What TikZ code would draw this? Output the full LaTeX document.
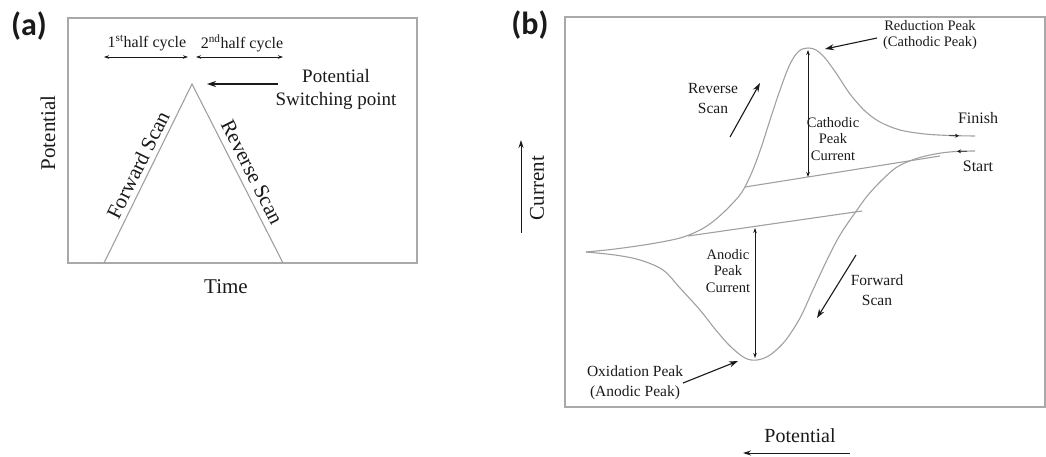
\documentclass[tikz,border=0pt]{standalone}
\usepackage{fontspec}
\setmainfont{Liberation Serif}
\newfontfamily\panelfont{Carlito}
\usetikzlibrary{positioning,arrows.meta}
\definecolor{frame}{HTML}{A9A9A9}
\definecolor{trace}{HTML}{A0A0A0}
\definecolor{ink}{HTML}{1A1A1A}

\begin{document}
\begin{tikzpicture}[x=1pt,y=-1pt,
  every node/.style={text=ink,inner sep=0pt},
  curve/.style={trace,line width=1.1pt},
  box/.style={frame,line width=1.2pt},
  ann/.style={ink,line width=1.1pt,-{Stealth[length=9pt,width=6pt]}},
  dim/.style={ink,line width=0.8pt,{Stealth[length=5pt,width=3.5pt]}-{Stealth[length=5pt,width=3.5pt]}},
  panel/.style={font=\panelfont\bfseries\fontsize{32}{32}\selectfont},
  txtlg/.style={font=\fontsize{21}{23}\selectfont},
  txtmd/.style={font=\fontsize{16}{18}\selectfont},
  txtsm/.style={font=\fontsize{15.5}{20}\selectfont,align=center},
  txtpk/.style={font=\fontsize{14.5}{16.5}\selectfont,align=center}]
  \useasboundingbox (0,0) rectangle (1046,456);

  % panel (a): potential against time
  \node[panel] (pa) at (29,26) {(a)};
  \draw[box] (68,18) rectangle (417,263);
  \coordinate (b1) at (104,263);
  \coordinate (apex) at (192,84);
  \coordinate (b2) at (283,263);
  \draw[curve] (b1) -- (apex) -- (b2);
  \coordinate (h0) at (104,57);
  \coordinate (hm1) at (188,57);
  \coordinate (hm2) at (196,57);
  \coordinate (h2) at (283,57);
  \draw[dim] (h0) -- (hm1);
  \draw[dim] (hm2) -- (h2);
  \node[txtmd] (half1) at (147,43) {1\textsuperscript{st}half cycle};
  \node[txtmd] (half2) at (242,43) {2\textsuperscript{nd}half cycle};
  \node[font=\fontsize{19}{23}\selectfont,align=center] (switch) at (336,89) {Potential\\Switching point};
  \coordinate (swtail) at (278,84);
  \draw[ann] (swtail) -- ([xshift=15pt]apex);
  \node[txtlg,rotate=63.8] (fwd) at (138,165) {Forward Scan};
  \node[txtlg,rotate=-63.2] (rev) at (252,172) {Reverse Scan};
  \node[txtlg,rotate=90] (ylab) at (48,133) {Potential};
  \node[txtlg] (xlab) at (226,287) {Time};

  % panel (b): voltammogram
  \node[panel] (pb) at (530,25) {(b)};
  \draw[box] (565,17) rectangle (1045,407);
  \coordinate (cur0) at (521,233);
  \coordinate (cur1) at (521,140);
  \draw[ink,line width=1pt,-{Stealth[length=8pt,width=5pt]}] (cur0) -- (cur1);
  \node[txtlg,rotate=90] (curlab) at (537,188) {Current};
  \node[font=\fontsize{20}{22}\selectfont] (potlab) at (800,436) {Potential};
  \coordinate (pot0) at (850,453);
  \coordinate (pot1) at (743,453);
  \draw[ink,line width=1pt,-{Stealth[length=8pt,width=5pt]}] (pot0) -- (pot1);

  % reverse (upper) branch
  \draw[curve] plot[smooth,tension=0.55] coordinates {(586,252) (615,249) (650,244) (680,238)
    (700,230) (715,220) (730,206) (742,192) (752,172) (761,148) (770,120) (780,90) (790,64)
    (799,51) (808,48) (816,50) (825,58) (836,73) (850,94) (865,111) (880,122) (900,130)
    (925,134) (950,135.5) (975,136)};
  % forward (lower) branch
  \draw[curve] plot[smooth,tension=0.55] coordinates {(975,151) (955,151.5) (935,154) (915,159)
    (897,167) (882,180) (868,195) (857,210) (840,235) (826,262) (812,292) (800,318) (785,341)
    (770,355) (757,360) (745,358) (730,346) (715,329) (700,310) (680,288) (663,270) (640,260)
    (615,255) (586,252)};
  % baselines
  \draw[curve] (745,187) -- (940,156);
  \draw[curve] (688,236) -- (862,211);
  \draw[ink,line width=0.7pt,-{Stealth[length=4pt,width=4pt]}] (949,135.6) -- (959,135.8);
  \draw[ink,line width=0.7pt,-{Stealth[length=4pt,width=4pt]}] (967,151.2) -- (957,151.4);

  % peak currents
  \draw[dim] (808,50) -- (808,177);
  \draw[dim] (755,228) -- (755,358);
  \node[txtpk] (cathlbl) at (833,139) {Cathodic\\Peak\\Current};
  \node[txtpk] (anolbl) at (728,271) {Anodic\\Peak\\Current};

  % annotations
  \node[txtpk] (redlbl) at (930,35) {Reduction Peak\\(Cathodic Peak)};
  \coordinate (redtail) at (877,38);
  \coordinate (redhead) at (825,49);
  \draw[ann] (redtail) -- (redhead);
  \node[txtsm] (revlbl) at (713,98) {Reverse\\Scan};
  \coordinate (revtail) at (730,137);
  \coordinate (revhead) at (760,83);
  \draw[ann] (revtail) -- (revhead);
  \node[txtsm] (fwdlbl) at (877,290) {Forward\\Scan};
  \coordinate (fwdtail) at (856,255);
  \coordinate (fwdhead) at (817,318);
  \draw[ann] (fwdtail) -- (fwdhead);
  \node[txtsm] (oxlbl) at (635,383) {Oxidation Peak\\(Anodic Peak)};
  \coordinate (oxtail) at (683,383);
  \coordinate (oxhead) at (738,361);
  \draw[ann] (oxtail) -- (oxhead);
  \node[font=\fontsize{16}{18}\selectfont] (finlbl) at (978,118) {Finish};
  \node[font=\fontsize{16}{18}\selectfont] (stlbl) at (978,166) {Start};
\end{tikzpicture}
\end{document}
